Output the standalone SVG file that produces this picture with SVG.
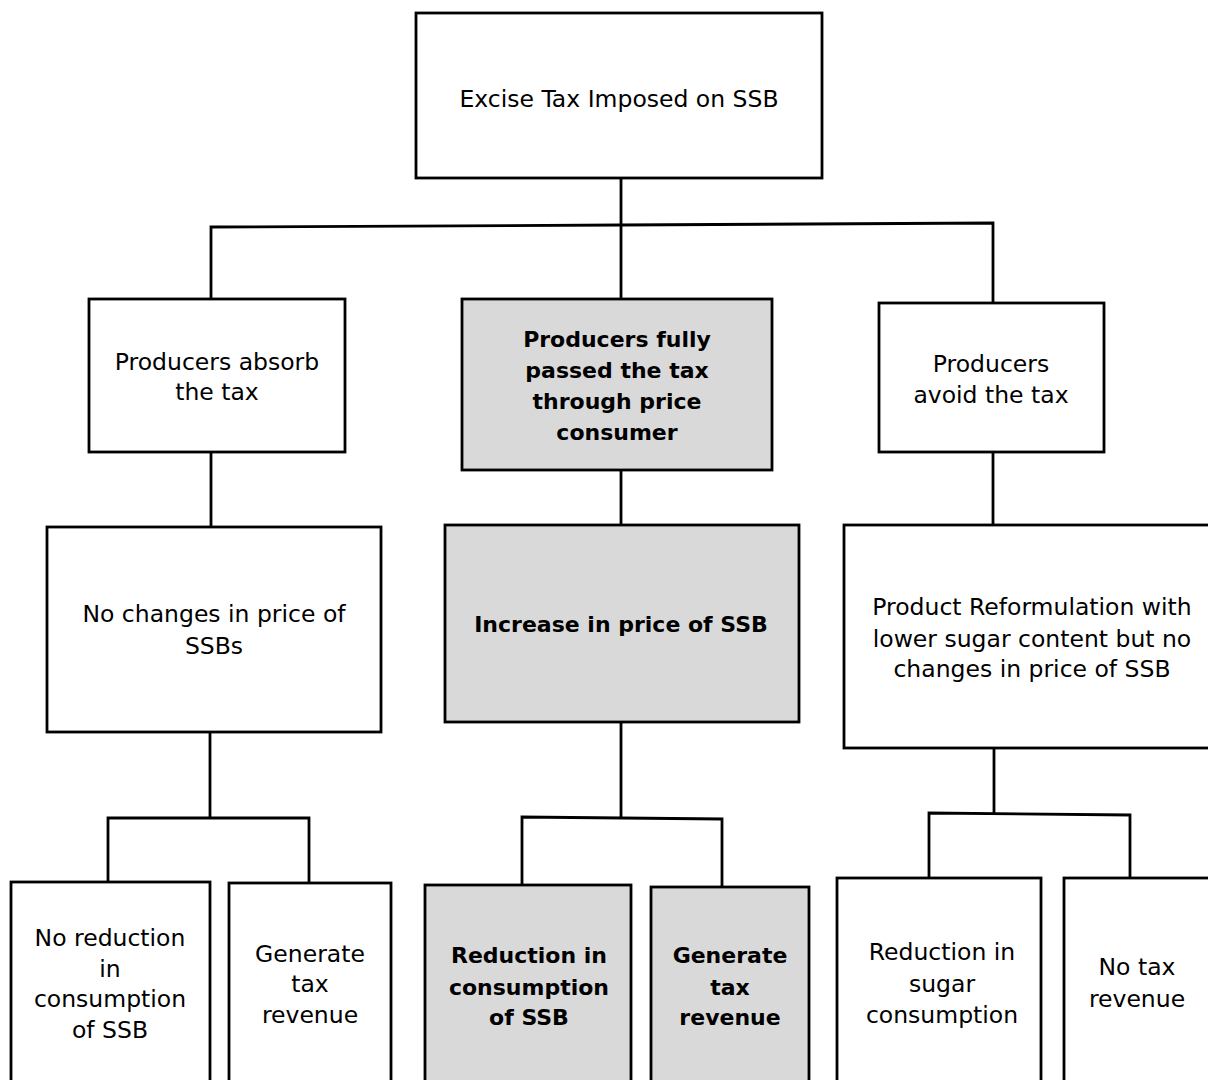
<svg xmlns="http://www.w3.org/2000/svg" width="1208" height="1080" viewBox="0 0 1208 1080">
<style>
.box{fill:#ffffff;stroke:#000000;stroke-width:2.8}
.hl{fill:#d9d9d9;stroke:#000000;stroke-width:2.8}
.c{fill:none;stroke:#000000;stroke-width:2.8}
text{font-family:"DejaVu Sans","Liberation Sans",sans-serif;font-size:23.5px;fill:#000000;text-anchor:middle}
.b{font-weight:bold;font-size:22px}
</style>
<rect width="1208" height="1080" fill="#ffffff"/>
<g id="connectors">
<polyline class="c" points="621,178 621,298"/>
<polyline class="c" points="211,299 211,227 621,225 993,223 993,303"/>
<polyline class="c" points="211,452 211,527"/>
<polyline class="c" points="210,732 210,817"/>
<polyline class="c" points="108,882 108,818 309,818 309,882"/>
<polyline class="c" points="621,470 621,525"/>
<polyline class="c" points="621,722 621,817"/>
<polyline class="c" points="522,884 522,817 722,819 722,886"/>
<polyline class="c" points="993,452 993,525"/>
<polyline class="c" points="994,748 994,813"/>
<polyline class="c" points="929,878 929,813 1130,815 1130,878"/>
</g>
<g id="n-top">
<rect class="box" x="416" y="13" width="406" height="165"/>
<text x="619" y="107">Excise Tax Imposed on SSB</text>
</g>
<g id="n-absorb">
<rect class="box" x="89" y="299" width="256" height="153"/>
<text x="217" y="370">Producers absorb</text>
<text x="217" y="400">the tax</text>
</g>
<g id="n-passed">
<rect class="hl" x="462" y="299" width="310" height="171"/>
<text class="b" x="617" y="347">Producers fully</text>
<text class="b" x="617" y="378">passed the tax</text>
<text class="b" x="617" y="409">through price</text>
<text class="b" x="617" y="440">consumer</text>
</g>
<g id="n-avoid">
<rect class="box" x="879" y="303" width="225" height="149"/>
<text x="991" y="372">Producers</text>
<text x="991" y="403">avoid the tax</text>
</g>
<g id="n-nochange">
<rect class="box" x="47" y="527" width="334" height="205"/>
<text x="214" y="622">No changes in price of</text>
<text x="214" y="654">SSBs</text>
</g>
<g id="n-increase">
<rect class="hl" x="445" y="525" width="354" height="197"/>
<text class="b" x="621" y="632">Increase in price of SSB</text>
</g>
<g id="n-reform">
<rect class="box" x="844" y="525" width="370" height="223"/>
<text x="1032" y="615">Product Reformulation with</text>
<text x="1032" y="647">lower sugar content but no</text>
<text x="1032" y="677">changes in price of SSB</text>
</g>
<g id="n-noreduction">
<rect class="box" x="11" y="882" width="199" height="210"/>
<text x="110" y="946">No reduction</text>
<text x="110" y="977">in</text>
<text x="110" y="1007">consumption</text>
<text x="110" y="1038">of SSB</text>
</g>
<g id="n-generate1">
<rect class="box" x="229" y="883" width="162" height="210"/>
<text x="310" y="962">Generate</text>
<text x="310" y="992">tax</text>
<text x="310" y="1023">revenue</text>
</g>
<g id="n-reduction">
<rect class="hl" x="425" y="885" width="206" height="210"/>
<text class="b" x="529" y="963">Reduction in</text>
<text class="b" x="529" y="995">consumption</text>
<text class="b" x="529" y="1025">of SSB</text>
</g>
<g id="n-generate2">
<rect class="hl" x="651" y="887" width="158" height="210"/>
<text class="b" x="730" y="963">Generate</text>
<text class="b" x="730" y="995">tax</text>
<text class="b" x="730" y="1025">revenue</text>
</g>
<g id="n-sugar">
<rect class="box" x="837" y="878" width="204" height="215"/>
<text x="942" y="960">Reduction in</text>
<text x="942" y="992">sugar</text>
<text x="942" y="1023">consumption</text>
</g>
<g id="n-notax">
<rect class="box" x="1064" y="878" width="160" height="215"/>
<text x="1137" y="975">No tax</text>
<text x="1137" y="1007">revenue</text>
</g>
</svg>
